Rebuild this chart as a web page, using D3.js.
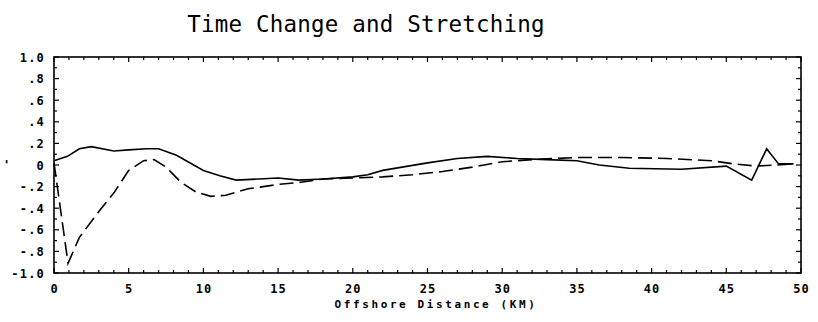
<!DOCTYPE html>
<html>
<head>
<meta charset="utf-8">
<script src="https://cdn.jsdelivr.net/npm/d3@7"></script>
<style>
  body { margin: 0; background: #fff; }
  svg { display: block; }
  .tick-label { font-family: "DejaVu Sans Mono", monospace; font-weight: bold; font-size: 12px; fill: #000; }
</style>
</head>
<body>
<div id="chart"></div>
<script>
// offshore distance (km) and values for the solid curve
const solidKm = [0, 0.9, 1.7, 2.5, 4, 5, 6.2, 7, 8.2, 10, 11.1, 12.2, 15, 16.4, 18, 20, 21, 22, 25, 27, 29, 31, 33, 35, 36.5, 38.5, 42, 45, 46.7, 47.7, 48.5, 49.5];
const solidVal = [0.04, 0.08, 0.15, 0.17, 0.13, 0.14, 0.15, 0.15, 0.09, -0.05, -0.10, -0.14, -0.12, -0.14, -0.13, -0.11, -0.09, -0.05, 0.02, 0.06, 0.08, 0.06, 0.05, 0.04, 0.0, -0.03, -0.04, -0.01, -0.14, 0.15, 0.01, 0.01];

// dashed curve
const dashKm = [0, 0.94, 1.7, 3, 4, 5, 6, 6.7, 7.5, 8.5, 9.5, 10.5, 11.5, 13, 15, 16.5, 18, 20, 22, 24, 26, 28, 30, 32, 35, 38, 41, 44, 45.5, 47, 49.5];
const dashVal = [0.02, -0.91, -0.67, -0.43, -0.26, -0.05, 0.04, 0.05, -0.02, -0.16, -0.25, -0.29, -0.28, -0.22, -0.18, -0.16, -0.13, -0.12, -0.11, -0.09, -0.06, -0.02, 0.03, 0.05, 0.07, 0.07, 0.06, 0.04, 0.01, -0.01, 0.01];

const xTicks = [0, 5, 10, 15, 20, 25, 30, 35, 40, 45, 50];
const yTicks = [1.0, 0.8, 0.6, 0.4, 0.2, 0, -0.2, -0.4, -0.6, -0.8, -1.0];
const yTickLabels = ["1.0", ".8", ".6", ".4", ".2", "0", "-.2", "-.4", "-.6", "-.8", "-1.0"];

const W = 818, H = 322;
const margin = { top: 57, right: 17, bottom: 49, left: 54 };

const svg = d3.select('#chart').append('svg')
    .attr('width', W)
    .attr('height', H);

const x = d3.scaleLinear().domain([0, 50]).range([margin.left, W - margin.right]);
const y = d3.scaleLinear().domain([-1, 1]).range([H - margin.bottom, margin.top]);

// title
svg.append('text')
    .attr('x', 366).attr('y', 32)
    .attr('text-anchor', 'middle')
    .style('font-family', '"DejaVu Sans Mono", monospace')
    .style('font-size', '22.5px')
    .style('letter-spacing', '0.2px')
    .text('Time Change and Stretching');

// frame
svg.append('rect')
    .attr('x', x(0)).attr('y', y(1))
    .attr('width', x(50) - x(0)).attr('height', y(-1) - y(1))
    .attr('fill', 'none').attr('stroke', '#000').attr('stroke-width', 1.6);

// minor + major ticks, pointing inward on all four sides
const kmMinor = d3.range(0, 51, 1);
const valMinor = d3.range(-10, 11, 1).map(d => d / 10);
const ticks = svg.append('g').attr('stroke', '#000').attr('stroke-width', 1.2);

kmMinor.forEach(k => {
    const len = k % 5 === 0 ? 5 : 3;
    ticks.append('line').attr('x1', x(k)).attr('x2', x(k)).attr('y1', y(-1)).attr('y2', y(-1) - len);
    ticks.append('line').attr('x1', x(k)).attr('x2', x(k)).attr('y1', y(1)).attr('y2', y(1) + len);
});
valMinor.forEach(v => {
    const len = Math.round(v * 10) % 2 === 0 ? 5 : 3;
    ticks.append('line').attr('x1', x(0)).attr('x2', x(0) + len).attr('y1', y(v)).attr('y2', y(v));
    ticks.append('line').attr('x1', x(50)).attr('x2', x(50) - len).attr('y1', y(v)).attr('y2', y(v));
});

// x tick labels
svg.append('g').selectAll('text')
    .data(xTicks)
    .join('text')
    .attr('class', 'tick-label')
    .attr('x', d => x(d) + 0.5)
    .attr('y', 293)
    .attr('text-anchor', 'middle')
    .style('letter-spacing', '1px')
    .text(d => d);

// y tick labels
svg.append('g').selectAll('text')
    .data(yTicks)
    .join('text')
    .attr('class', 'tick-label')
    .attr('x', 45)
    .attr('y', d => y(d) + 4.5)
    .attr('text-anchor', 'end')
    .style('letter-spacing', '1.2px')
    .text((d, i) => yTickLabels[i]);

// stray y label mark
svg.append('text')
    .attr('class', 'tick-label')
    .attr('x', 3).attr('y', y(0) + 4)
    .text("'");

// x axis label
svg.append('text')
    .attr('class', 'tick-label')
    .attr('x', 436).attr('y', 308)
    .attr('text-anchor', 'middle')
    .style('font-size', '11px')
    .style('letter-spacing', '2.6px')
    .text('Offshore Distance (KM)');

const line = d3.line()
    .x(d => x(d[0]))
    .y(d => y(d[1]))
    .curve(d3.curveLinear);

svg.append('path')
    .datum(solidKm.map((k, i) => [k, solidVal[i]]))
    .attr('d', line)
    .attr('fill', 'none')
    .attr('stroke', '#000')
    .attr('stroke-width', 1.6);

svg.append('path')
    .datum(dashKm.map((k, i) => [k, dashVal[i]]))
    .attr('d', line)
    .attr('fill', 'none')
    .attr('stroke', '#000')
    .attr('stroke-width', 1.6)
    .attr('stroke-dasharray', '14,6');
</script>
</body>
</html>
